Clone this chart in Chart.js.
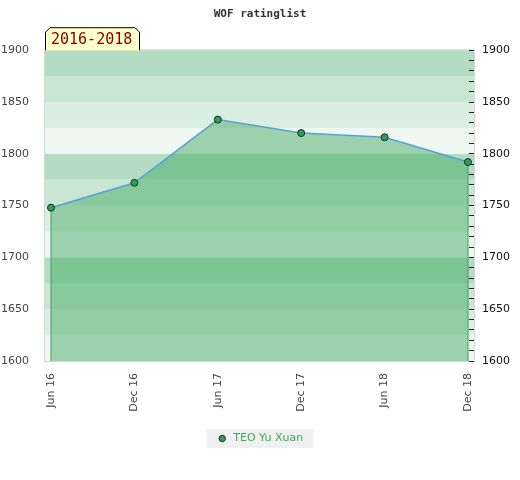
<!DOCTYPE html>
<html>
<head>
<meta charset="utf-8">
<script src="https://cdn.jsdelivr.net/npm/chart.js@4/dist/chart.umd.min.js"></script>
<style>
  html, body { margin: 0; padding: 0; background: #ffffff; }
  #wrap { width: 520px; height: 480px; }
</style>
</head>
<body>
<div id="wrap"><canvas id="c" width="520" height="480"></canvas></div>
<script>
// ---- data ----
const categories = ["Jun 16", "Dec 16", "Jun 17", "Dec 17", "Jun 18", "Dec 18"];
const ratings = [1748, 1772, 1833, 1820, 1816, 1792];
const seriesName = "TEO Yu Xuan";
const periodLabel = "2016-2018";
const yMin = 1600, yMax = 1900;
const yTicksLeft = [1600, 1650, 1700, 1750, 1800, 1850, 1900];

const points = ratings.map((v, i) => ({ x: i, y: v }));
const lastIdx = ratings.length - 1;
const edgeLeft = [{ x: 0, y: yMin }, { x: 0, y: ratings[0] }];
const edgeRight = [{ x: lastIdx, y: yMin }, { x: lastIdx, y: ratings[lastIdx] }];

const bandColors = ["#eef7f1", "#dbeee2", "#c9e6d3", "#b3dcc2"];

const bandsPlugin = {
  id: 'bands',
  beforeDraw(chart) {
    const { ctx, chartArea } = chart;
    const ys = chart.scales.y;
    ctx.save();
    for (let v = yMin; v < yMax; v += 25) {
      const idx = (v / 25) % 4;
      const top = ys.getPixelForValue(v + 25);
      const bot = ys.getPixelForValue(v);
      ctx.fillStyle = bandColors[idx];
      ctx.fillRect(chartArea.left, top, chartArea.right - chartArea.left, bot - top);
    }
    ctx.strokeStyle = '#d6d6d6';
    ctx.lineWidth = 1;
    ctx.strokeRect(chartArea.left - 0.5, chartArea.top - 0.5,
      chartArea.right - chartArea.left + 1, chartArea.bottom - chartArea.top + 1);
    ctx.restore();
  }
};

const labelBoxPlugin = {
  id: 'labelBox',
  afterDraw(chart) {
    const { ctx, chartArea } = chart;
    const l = chartArea.left, r = l + 95, b = chartArea.top, t = b - 23, c = 5;
    ctx.save();
    ctx.beginPath();
    ctx.moveTo(l + 0.5, b);
    ctx.lineTo(l + 0.5, t + c);
    ctx.lineTo(l + c, t + 0.5);
    ctx.lineTo(r - c, t + 0.5);
    ctx.lineTo(r - 0.5, t + c);
    ctx.lineTo(r - 0.5, b);
    ctx.fillStyle = '#ffffcc';
    ctx.fill();
    ctx.strokeStyle = '#000000';
    ctx.lineWidth = 1;
    ctx.stroke();
    ctx.fillStyle = '#800000';
    ctx.font = '15px "DejaVu Sans Mono"';
    ctx.textBaseline = 'middle';
    ctx.textAlign = 'left';
    ctx.fillText(periodLabel, l + 6, t + 13);
    ctx.restore();
  }
};

const legendBgPlugin = {
  id: 'legendBg',
  beforeDraw(chart) {
    const lg = chart.legend;
    if (!lg || !lg.legendHitBoxes || !lg.legendHitBoxes.length) return;
    const hb = lg.legendHitBoxes[0];
    const { ctx } = chart;
    ctx.save();
    ctx.fillStyle = '#f0f0f0';
    ctx.fillRect(hb.left - 10, hb.top - 4, hb.width + 20, hb.height + 8);
    ctx.restore();
  }
};

new Chart(document.getElementById('c'), {
  type: 'line',
  data: {
    datasets: [
      {
        label: seriesName,
        data: points,
        borderColor: '#5b9fd8',
        borderWidth: 1.5,
        backgroundColor: 'rgba(69,171,102,0.49)',
        fill: 'start',
        tension: 0,
        pointRadius: 3.5,
        pointHoverRadius: 3.5,
        pointBackgroundColor: '#2f9e5c',
        pointBorderColor: '#1b2b20',
        pointBorderWidth: 1,
        order: 1
      },
      {
        label: 'edgeL',
        data: edgeLeft,
        borderColor: '#3a9a5a',
        borderWidth: 1,
        pointRadius: 0,
        fill: false,
        order: 2
      },
      {
        label: 'edgeR',
        data: edgeRight,
        borderColor: '#3a9a5a',
        borderWidth: 1,
        pointRadius: 0,
        fill: false,
        order: 2
      }
    ]
  },
  options: {
    responsive: false,
    animation: false,
    devicePixelRatio: 1,
    layout: { padding: { top: 0, left: 0, right: 0, bottom: 26 } },
    plugins: {
      title: {
        display: true,
        text: 'WOF ratinglist',
        color: '#333333',
        font: { family: 'DejaVu Sans Mono', size: 11, weight: 'bold' },
        padding: { top: 8, bottom: 29 }
      },
      legend: {
        position: 'bottom',
        labels: {
          filter: (item) => item.datasetIndex === 0,
          usePointStyle: true,
          pointStyle: 'circle',
          boxWidth: 12,
          boxHeight: 4.5,
          color: '#3aaa5a',
          font: { family: 'DejaVu Sans', size: 11 },
          padding: 10
        }
      },
      tooltip: { enabled: false }
    },
    scales: {
      x: {
        type: 'linear',
        min: -0.072,
        max: lastIdx + 0.072,
        afterBuildTicks: (s) => { s.ticks = categories.map((_, i) => ({ value: i })); },
        afterFit: (s) => { s.height = 62; },
        ticks: {
          callback: (v) => categories[v] ?? '',
          minRotation: 90,
          maxRotation: 90,
          color: '#444444',
          font: { family: 'DejaVu Sans', size: 11 },
          padding: 4
        },
        grid: { display: false },
        border: { display: false }
      },
      y: {
        position: 'left',
        min: yMin,
        max: yMax,
        afterBuildTicks: (s) => { s.ticks = yTicksLeft.map(v => ({ value: v })); },
        afterFit: (s) => { s.width = 45; },
        ticks: {
          callback: (v) => String(v),
          color: '#444444',
          font: { family: 'DejaVu Sans', size: 11 },
          padding: 8
        },
        grid: { display: false },
        border: { display: false }
      },
      y2: {
        position: 'right',
        min: yMin,
        max: yMax,
        afterFit: (s) => { s.width = 46; },
        ticks: {
          stepSize: 10,
          autoSkip: false,
          callback: (v) => (v % 50 === 0 ? String(v) : ''),
          color: '#111111',
          font: { family: 'DejaVu Sans', size: 11 },
          padding: 13
        },
        grid: {
          drawOnChartArea: false,
          tickLength: -5,
          tickColor: '#222222',
          tickWidth: 1
        },
        border: { display: false }
      }
    }
  },
  plugins: [bandsPlugin, labelBoxPlugin, legendBgPlugin]
});
</script>
</body>
</html>
